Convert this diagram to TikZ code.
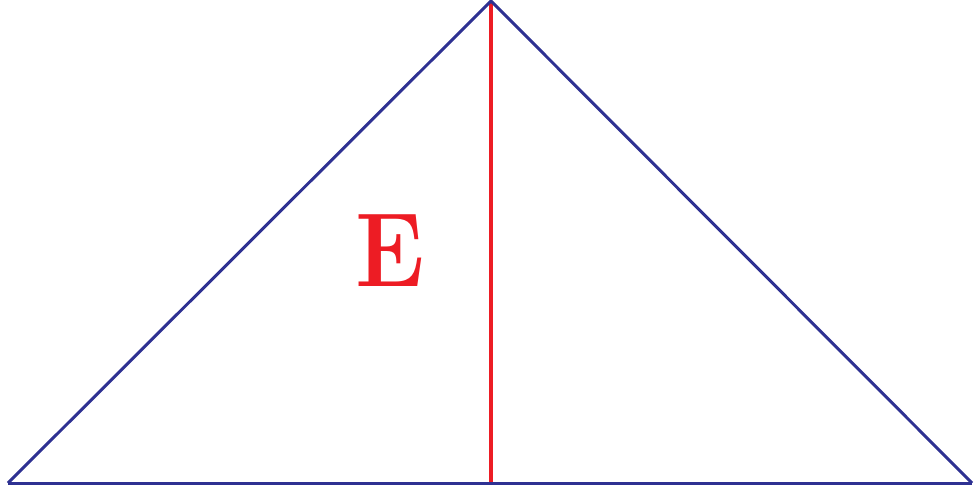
\documentclass[tikz,border=0pt]{standalone}
\definecolor{edgeblue}{HTML}{2E3192}
\definecolor{altred}{HTML}{ED1C24}
\tikzset{edge/.style={draw=edgeblue,line width=1.7pt},
 alt/.style={draw=altred,line width=2.3pt},
 lab/.style={text=altred,font=\fontsize{60}{60}\selectfont\bfseries,inner sep=0pt,xscale=0.89}}
\begin{document}
\begin{tikzpicture}[x=0.02cm,y=-0.02cm]
\useasboundingbox (0,0) rectangle (977,491);
\coordinate (A) at (491,1);
\coordinate (B) at (8,483);
\coordinate (C) at (972,483);
\coordinate (H) at (491,483);
\draw[alt] (A) -- (H);
\draw[edge,line join=miter] (B) -- (A) -- (C);
\draw[edge] (B) -- (C);
\node[lab] (E) at (390,251) {E};
\end{tikzpicture}
\end{document}
